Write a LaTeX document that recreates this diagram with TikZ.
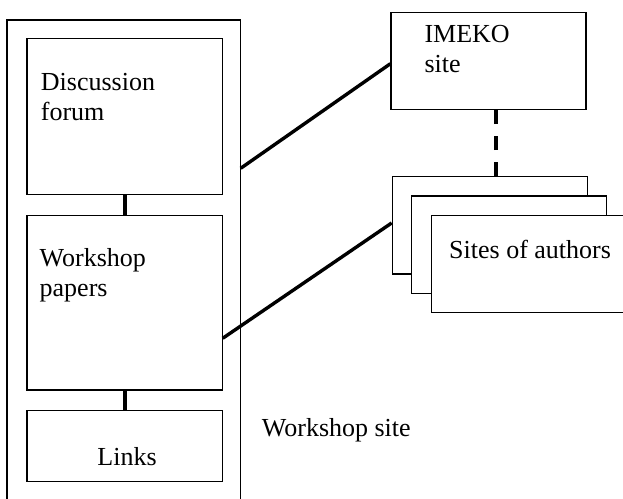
\documentclass[tikz,border=0pt]{standalone}
\usepackage{fontspec}
\setmainfont{Liberation Serif}
\begin{document}
\begin{tikzpicture}[x=1pt,y=-1pt,
  box/.style={draw=black,line width=1.2pt,fill=white,rectangle,inner sep=0pt},
  txt/.style={inner sep=0pt,font=\fontsize{26}{30}\selectfont,align=left},
  thick link/.style={line width=3.4pt},
  dash link/.style={line width=3.6pt,dash pattern=on 14pt off 12pt}]
\useasboundingbox (0,0) rectangle (623,498);
\clip (0,0) rectangle (623,498);
% left column
\node[box,minimum width=233.7pt,minimum height=520pt] (outer) at (123.85,280) {};
\node[box,minimum width=195.7pt,minimum height=156pt] (disc) at (124.85,116.7) {};
\node[box,minimum width=195.7pt,minimum height=174.7pt] (papers) at (124.85,302.65) {};
\node[box,minimum width=195.7pt,minimum height=71pt] (links) at (124.85,446.2) {};
% right side
\node[box,minimum width=195pt,minimum height=96.6pt] (imeko) at (488.5,61) {};
\node[box,minimum width=195pt,minimum height=97.3pt] (a1) at (489.8,225.35) {};
\node[box,minimum width=195pt,minimum height=97.3pt] (a2) at (509.2,244.65) {};
\node[box,minimum width=195pt,minimum height=97pt] (a3) at (529.2,264.2) {};
% texts
\node[txt,anchor=base west] (tdisc1) at (40.7,90) {Discussion};
\node[txt,anchor=base west] (tdisc2) at (40.7,120) {forum};
\node[txt,anchor=base west] (tpap1) at (39.5,266) {Workshop};
\node[txt,anchor=base west] (tpap2) at (39.5,296) {papers};
\node[txt,anchor=base] (tlinks) at (127,465) {Links};
\node[txt,anchor=base west] (tws) at (261.7,436.7) {Workshop site};
\node[txt,anchor=base west] (timk1) at (424.3,42.3) {IMEKO};
\node[txt,anchor=base west] (timk2) at (424.3,72.5) {site};
\node[txt,anchor=base west] (tauth) at (449,258.3) {Sites of authors};
% connectors
\coordinate (o1) at (240.7,168.3);
\coordinate (p1) at (222.7,338.3);
\draw[thick link] (disc.south) -- (papers.north);
\draw[thick link] (papers.south) -- (links.north);
\draw[thick link] (o1) -- ([yshift=-2.7pt]imeko.west);
\draw[thick link] (p1) -- ([yshift=2.4pt]a1.west);
\draw[dash link] ([xshift=6.2pt]a1.north) -- ([xshift=7.5pt]imeko.south);
\end{tikzpicture}
\end{document}
